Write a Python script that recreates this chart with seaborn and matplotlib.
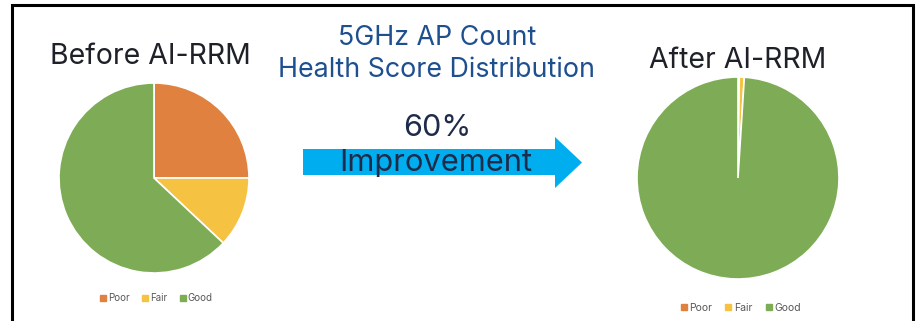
import matplotlib
matplotlib.use("Agg")
import matplotlib.pyplot as plt
from matplotlib.patches import Polygon
import seaborn as sns

sns.set_theme(style="white")
plt.rcParams["font.family"] = ["Inter", "DejaVu Sans"]

categories = ["Poor", "Fair", "Good"]
before_values = [25, 12, 63]
after_values = [0.2, 0.8, 99.0]
colors = ["#E0813F", "#F5C242", "#7EAC56"]

W, H = 918, 321
fig = plt.figure(figsize=(W / 100, H / 100), dpi=100)

# overlay in pixel coordinates for frame, titles and arrow
bg = fig.add_axes([0, 0, 1, 1])
bg.set_xlim(0, W)
bg.set_ylim(H, 0)
bg.axis("off")

# frame (open at the bottom)
bg.plot([12, 12, 913, 913], [H + 5, 5, 5, H + 5], color="black", lw=2.2,
        solid_joinstyle="miter", clip_on=False)

# arrow
arrow = Polygon([(303, 149), (555, 149), (555, 137), (582, 162.5),
                 (555, 188), (555, 175), (303, 175)],
                closed=True, facecolor="#00AEEF", edgecolor="none")
bg.add_patch(arrow)

blue = "#1E4F8F"
navy = "#1F2B4A"
bg.text(437, 38, "5GHz AP Count", ha="center", va="center", fontsize=19.3, color=blue)
bg.text(437, 70, "Health Score Distribution", ha="center", va="center", fontsize=19.3, color=blue)
bg.text(437, 128, "60%", ha="center", va="center", fontsize=22, color=navy)
bg.text(436, 163, "Improvement", ha="center", va="center", fontsize=22.2, color=navy)
bg.text(150, 57, "Before AI-RRM", ha="center", va="center", fontsize=20.5, color="#1E2228")
bg.text(738, 60, "After AI-RRM", ha="center", va="center", fontsize=20.5, color="#1E2228")


def pie_axes(cx, cy, r):
    return fig.add_axes([(cx - r) / W, (H - cy - r) / H, 2 * r / W, 2 * r / H])


def draw_pie(ax, values):
    ax.pie(values, colors=colors, startangle=90, counterclock=False,
           wedgeprops=dict(edgecolor="white", linewidth=1.2))
    ax.set_xlim(-1, 1)
    ax.set_ylim(-1, 1)
    ax.set_aspect("equal")
    ax.axis("off")


ax1 = pie_axes(154, 178, 95)
draw_pie(ax1, before_values)
ax2 = pie_axes(738, 178, 101)
draw_pie(ax2, after_values)

handles = [plt.Line2D([], [], marker="s", linestyle="none", markersize=4,
                      markerfacecolor=c, markeredgecolor=c) for c in colors]
for cx, cy, fs in [(156, 298, 7), (740, 308, 7.5)]:
    fig.legend(handles, categories, loc="center", ncol=3,
               bbox_to_anchor=(cx / W, 1 - cy / H), frameon=False,
               fontsize=fs, labelcolor="#595959", handletextpad=0.1,
               columnspacing=1.2, handlelength=0.8)

fig.savefig("out.png", dpi=100)
